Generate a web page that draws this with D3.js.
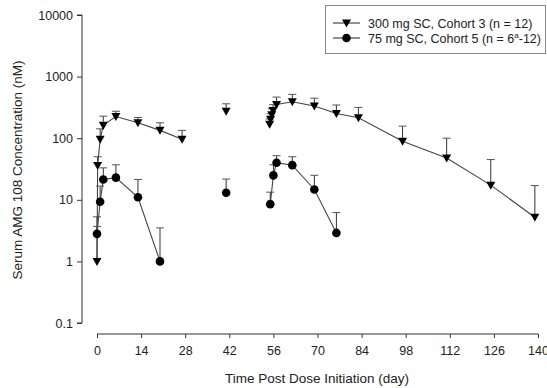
<!DOCTYPE html>
<html>
<head>
<meta charset="utf-8">
<script src="https://cdn.jsdelivr.net/npm/d3@7"></script>
<style>
  html, body { margin: 0; padding: 0; background: #fff; }
  svg { display: block; }
  text { font-family: "Liberation Sans", Arial, sans-serif; fill: #222; }
</style>
</head>
<body>
<svg id="chart" width="547" height="388"></svg>
<script>
// ---- Data ----
const xTicks = [0, 14, 28, 42, 56, 70, 84, 98, 112, 126, 140];
const yTicks = [0.1, 1, 10, 100, 1000, 10000];
const yTickLabels = ["0.1", "1", "10", "100", "1000", "10000"];

const seriesNames = ["300 mg SC, Cohort 3 (n = 12)", "75 mg SC, Cohort 5 (n = 6", "-12)"];

// 300 mg SC, Cohort 3 (segments separated where the line breaks)
const days300 = [0, 0.2, 1, 2, 6, 13, 20, 27, 41, 54.8, 55.1, 55.5, 55.9, 57, 62, 69, 76, 83, 97, 111, 125, 139];
const mean300 = [1, 36, 96, 163, 225, 178, 134, 96, 274, 168, 203, 240, 282, 354, 390, 333, 252, 215, 89, 47.6, 17.3, 5.2];
const upper300 = [5.3, 50, 142, 228, 274, 217, 178, 134, 362, 205, 250, 300, 350, 465, 515, 446, 346, 316, 157, 100, 45, 17];
const segment300 = [0, 0, 0, 0, 0, 0, 0, 0, 1, 2, 2, 2, 2, 2, 2, 2, 2, 2, 2, 2, 2, 2];

// 75 mg SC, Cohort 5
const days75 = [0, 1, 2, 6, 13, 20, 41, 55, 56, 57, 62, 69, 76];
const mean75 = [2.8, 9.3, 21.4, 22.9, 11, 1.0, 13, 8.5, 24.9, 40, 36.5, 14.7, 2.9];
const upper75 = [3.7, 16.7, 33, 37, 21.4, 3.5, 21.7, 13.3, 37, 52, 50, 25, 6.2];
const segment75 = [0, 0, 0, 0, 0, 0, 1, 2, 2, 2, 2, 2, 2];

// ---- Chart ----
const svg = d3.select("#chart");
const x = d3.scaleLinear().domain([0, 140]).range([97, 538]);
const y = d3.scaleLog().domain([0.1, 10000]).range([323, 15]);

// Y axis
const yAxis = d3.axisLeft(y).tickValues(yTicks)
  .tickFormat((d, i) => yTickLabels[i]).tickSize(5).tickPadding(4);
const gy = svg.append("g").attr("transform", "translate(82,0)").call(yAxis);
gy.select(".domain").attr("stroke", "#333").attr("d", "M-5,15H0V323H-5");
gy.selectAll(".tick line").attr("stroke", "#333");
gy.selectAll(".tick text").style("font-size", "12.5px").attr("fill", "#222");

// X axis
const xAxis = d3.axisBottom(x).tickValues(xTicks).tickSize(4).tickPadding(8);
const gx = svg.append("g").attr("transform", "translate(0,334)").call(xAxis);
gx.select(".domain").attr("stroke", "#333").attr("d", "M97,0H538");
gx.selectAll(".tick line").attr("stroke", "#333");
gx.selectAll(".tick text").style("font-size", "12.5px").attr("fill", "#222");

// Titles
svg.append("text").attr("x", 317).attr("y", 383).attr("text-anchor", "middle")
  .style("font-size", "13.5px").text("Time Post Dose Initiation (day)");
svg.append("text").attr("transform", "translate(22,170) rotate(-90)")
  .attr("text-anchor", "middle").style("font-size", "13.5px")
  .text("Serum AMG 108 Concentration (nM)");

const triPath = "M-4.5,-3.5L4.5,-3.5L0,4.5Z";

function drawSeries(days, mean, upper, segment, marker) {
  const pts = days.map((d, i) => ({ d, m: mean[i], u: upper[i], s: segment[i] }));
  const groups = d3.groups(pts, p => p.s);
  const line = d3.line().x(p => x(p.d)).y(p => y(p.m));
  // error bars
  const eb = svg.append("g");
  pts.forEach(p => {
    eb.append("line").attr("x1", x(p.d)).attr("x2", x(p.d))
      .attr("y1", y(p.m)).attr("y2", y(p.u)).attr("stroke", "#333").attr("stroke-width", 1);
    eb.append("line").attr("x1", x(p.d) - 4).attr("x2", x(p.d) + 4)
      .attr("y1", y(p.u)).attr("y2", y(p.u)).attr("stroke", "#555").attr("stroke-width", 1);
  });
  // lines
  groups.forEach(([k, g]) => {
    if (g.length > 1) {
      svg.append("path").attr("d", line(g)).attr("fill", "none")
        .attr("stroke", "#444").attr("stroke-width", 1.1);
    }
  });
  // markers
  const mk = svg.append("g");
  pts.forEach(p => {
    if (marker === "tri") {
      mk.append("path").attr("d", triPath)
        .attr("transform", `translate(${x(p.d)},${y(p.m)})`).attr("fill", "#000");
    } else {
      mk.append("circle").attr("cx", x(p.d)).attr("cy", y(p.m)).attr("r", 4.3).attr("fill", "#000");
    }
  });
}

drawSeries(days300, mean300, upper300, segment300, "tri");
drawSeries(days75, mean75, upper75, segment75, "circ");

// Legend
const lg = svg.append("g");
lg.append("rect").attr("x", 325.5).attr("y", 5.5).attr("width", 220).attr("height", 48)
  .attr("fill", "#fff").attr("stroke", "#888").attr("stroke-width", 1);
lg.append("line").attr("x1", 333).attr("x2", 360).attr("y1", 23).attr("y2", 23).attr("stroke", "#222");
lg.append("path").attr("d", triPath).attr("transform", "translate(346.5,23)").attr("fill", "#000");
lg.append("line").attr("x1", 333).attr("x2", 360).attr("y1", 38).attr("y2", 38).attr("stroke", "#222");
lg.append("circle").attr("cx", 346.5).attr("cy", 38).attr("r", 4.3).attr("fill", "#000");
lg.append("text").attr("x", 368).attr("y", 27.5).style("font-size", "12.5px").text(seriesNames[0]);
const t2 = lg.append("text").attr("x", 368).attr("y", 42.5).style("font-size", "12.5px");
t2.append("tspan").text(seriesNames[1]);
t2.append("tspan").attr("dy", -5).style("font-size", "8px").text("a");
t2.append("tspan").attr("dy", 5).text(seriesNames[2]);
</script>
</body>
</html>
